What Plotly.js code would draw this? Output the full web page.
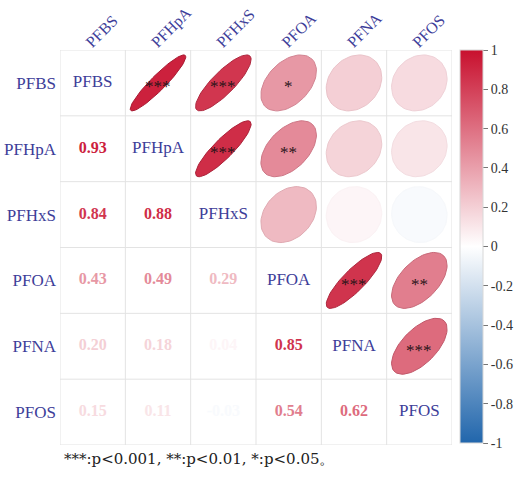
<!DOCTYPE html>
<html>
<head>
<meta charset="utf-8">
<script src="https://cdn.plot.ly/plotly-3.0.1.min.js"></script>
<style>
  html, body { margin: 0; padding: 0; background: #ffffff; }
  #chart { width: 519px; height: 481px; }
</style>
</head>
<body>
<div id="chart"></div>
<script>
// Variables of the correlation matrix
const variables = ['PFBS', 'PFHpA', 'PFHxS', 'PFOA', 'PFNA', 'PFOS'];

// Correlation coefficients, one row per variable
const corrPFBS  = [1.00, 0.93, 0.84, 0.43, 0.20, 0.15];
const corrPFHpA = [0.93, 1.00, 0.88, 0.49, 0.18, 0.11];
const corrPFHxS = [0.84, 0.88, 1.00, 0.29, 0.04, -0.03];
const corrPFOA  = [0.43, 0.49, 0.29, 1.00, 0.85, 0.54];
const corrPFNA  = [0.20, 0.18, 0.04, 0.85, 1.00, 0.62];
const corrPFOS  = [0.15, 0.11, -0.03, 0.54, 0.62, 1.00];

// Significance marks shown on the upper triangle
const sigPFBS  = ['', '***', '***', '*', '', ''];
const sigPFHpA = ['', '', '***', '**', '', ''];
const sigPFHxS = ['', '', '', '', '', ''];
const sigPFOA  = ['', '', '', '', '***', '**'];
const sigPFNA  = ['', '', '', '', '', '***'];
const sigPFOS  = ['', '', '', '', '', ''];

// Colour bar ticks
const colorbarTicks = [1, 0.8, 0.6, 0.4, 0.2, 0, -0.2, -0.4, -0.6, -0.8, -1];
const colorbarTickText = ['1', '0.8', '0.6', '0.4', '0.2', '0', '-0.2', '-0.4', '-0.6', '-0.8', '-1'];

const noteText = '***:p<0.001, **:p<0.01, *:p<0.05\u3002';

const corr = [corrPFBS, corrPFHpA, corrPFHxS, corrPFOA, corrPFNA, corrPFOS];
const sig = [sigPFBS, sigPFHpA, sigPFHxS, sigPFOA, sigPFNA, sigPFOS];

const serif = 'Liberation Serif, Times New Roman, serif';
const labelColor = '#3d3d99';

// Diverging blue-white-red scale on [-1, 1]
const blueEnd = [33, 102, 172];
const whiteMid = [255, 255, 255];
const redEnd = [200, 16, 46];
const colorscale = [
  [0, `rgb(${blueEnd})`],
  [0.5, `rgb(${whiteMid})`],
  [1, `rgb(${redEnd})`]
];
function mix(a, b, t) {
  return a.map((v, i) => Math.round(v + (b[i] - v) * t));
}
function corrRGB(r) {
  return r >= 0 ? mix(whiteMid, redEnd, r) : mix(whiteMid, blueEnd, -r);
}
function rgb(c) { return `rgb(${c[0]},${c[1]},${c[2]})`; }

// Ellipse outline for correlation r centred on a cell
function ellipse(r, cx, cy) {
  const n = 72, h = Math.acos(r) / 2, xs = [], ys = [];
  for (let i = 0; i <= n; i++) {
    const k = 2 * Math.PI * i / n;
    xs.push(cx + 0.85 * Math.cos(k + h) / 2);
    ys.push(cy - 0.85 * Math.cos(k - h) / 2);
  }
  return { xs, ys };
}

const n = variables.length;
const traces = [];
const annotations = [];

// Upper triangle: ellipses with significance stars
for (let i = 0; i < n; i++) {
  for (let j = i + 1; j < n; j++) {
    const r = corr[i][j];
    const e = ellipse(r, j, i);
    const fill = corrRGB(r);
    const edge = mix(fill, [70, 0, 15], 0.3 * Math.abs(r));
    traces.push({
      type: 'scatter', mode: 'lines',
      x: e.xs, y: e.ys,
      fill: 'toself',
      fillcolor: rgb(fill),
      line: { color: rgb(edge), width: 1 },
      hoverinfo: 'skip', showlegend: false
    });
    if (sig[i][j]) {
      annotations.push({
        x: j, y: i, xref: 'x', yref: 'y', text: sig[i][j],
        showarrow: false, yshift: -4,
        font: { family: serif, size: 17, color: '#2a1418' }
      });
    }
  }
}

// Lower triangle: coefficient values
const lowX = [], lowY = [], lowText = [], lowVal = [], lowCol = [];
for (let i = 0; i < n; i++) {
  for (let j = 0; j < i; j++) {
    lowX.push(j); lowY.push(i);
    lowVal.push(corr[i][j]);
    lowText.push('<b>' + corr[i][j].toFixed(2) + '</b>');
    lowCol.push(rgb(corrRGB(corr[i][j])));
  }
}
traces.push({
  type: 'scatter', mode: 'markers+text',
  x: lowX, y: lowY, text: lowText,
  textposition: 'middle center',
  textfont: { family: serif, size: 16, color: lowCol },
  marker: {
    size: 1, opacity: 0, color: lowVal,
    colorscale: colorscale, cmin: -1, cmax: 1, showscale: true,
    colorbar: {
      x: 460 / 519, xanchor: 'left', xref: 'paper',
      y: 1 - 246.5 / 481, yanchor: 'middle', yref: 'paper',
      len: 393 / 481, lenmode: 'fraction',
      thickness: 23, thicknessmode: 'pixels',
      xpad: 0, ypad: 0,
      outlinewidth: 1, outlinecolor: '#d8d8d8',
      tickvals: colorbarTicks, ticktext: colorbarTickText,
      ticks: 'outside', ticklen: 5, tickcolor: '#777', tickwidth: 1,
      tickfont: { family: serif, size: 14, color: '#333' }
    }
  },
  hoverinfo: 'skip', showlegend: false
});

// Diagonal: variable names
traces.push({
  type: 'scatter', mode: 'text',
  x: variables.map((_, i) => i), y: variables.map((_, i) => i),
  text: variables, textposition: 'middle center',
  textfont: { family: serif, size: 17, color: labelColor },
  hoverinfo: 'skip', showlegend: false
});

// Cell grid
const shapes = [];
for (let b = 0; b <= n; b++) {
  const p = b - 0.5;
  shapes.push({ type: 'line', xref: 'x', yref: 'y', x0: p, x1: p, y0: -0.5, y1: n - 0.5,
    line: { color: '#e3e3e3', width: 1 }, layer: 'below' });
  shapes.push({ type: 'line', xref: 'x', yref: 'y', x0: -0.5, x1: n - 0.5, y0: p, y1: p,
    line: { color: '#e3e3e3', width: 1 }, layer: 'below' });
}

annotations.push({
  xref: 'paper', yref: 'paper', x: 62 / 519, y: 1 - 459 / 481,
  xanchor: 'left', yanchor: 'middle', showarrow: false,
  text: noteText, font: { family: 'DejaVu Serif, serif', size: 15, color: '#222' }
});

const idx = variables.map((_, i) => i);
const layout = {
  width: 519, height: 481,
  margin: { l: 0, r: 0, t: 0, b: 0, pad: 0 },
  paper_bgcolor: '#ffffff', plot_bgcolor: '#ffffff',
  showlegend: false,
  xaxis: {
    domain: [60 / 519, 452 / 519], range: [-0.5, n - 0.5],
    side: 'top', tickvals: idx, ticktext: variables, tickangle: -45,
    showgrid: false, zeroline: false, showline: false, ticks: '',
    ticklabelstandoff: -5, ticklabelshift: -6,
    tickfont: { family: serif, size: 16, color: labelColor },
    automargin: false, fixedrange: true
  },
  yaxis: {
    domain: [1 - 445 / 481, 1 - 50 / 481], range: [n - 0.5, -0.5],
    tickvals: idx, ticktext: variables,
    showgrid: false, zeroline: false, showline: false, ticks: '',
    ticklabelstandoff: 3,
    tickfont: { family: serif, size: 17, color: labelColor },
    automargin: false, fixedrange: true
  },
  shapes: shapes,
  annotations: annotations
};

Plotly.newPlot('chart', traces, layout, { staticPlot: true, displayModeBar: false });
</script>
</body>
</html>
